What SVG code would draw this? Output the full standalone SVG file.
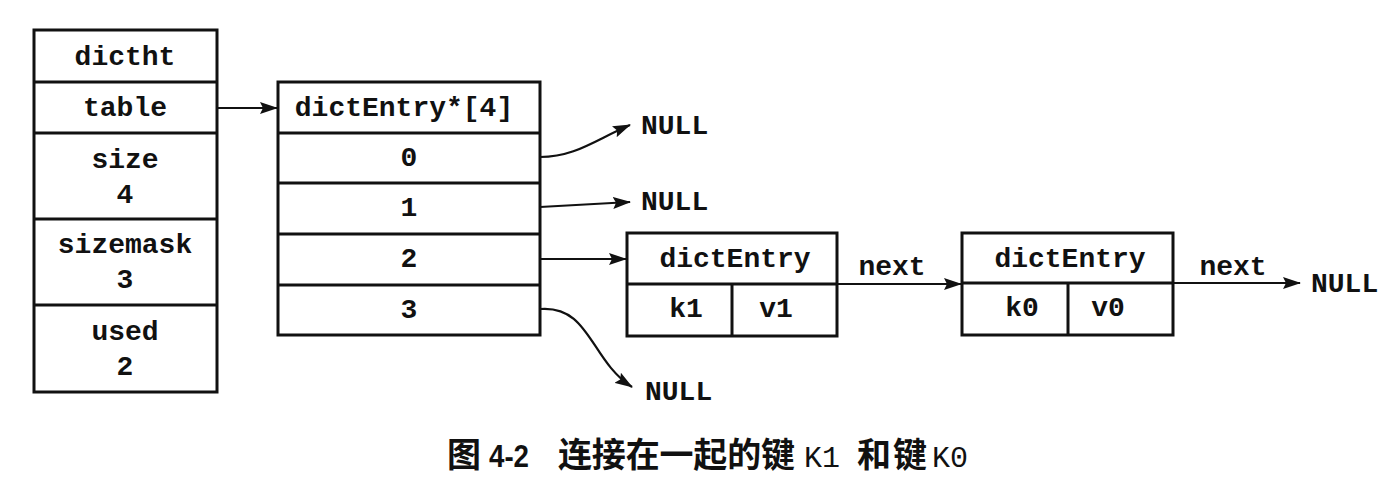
<svg xmlns="http://www.w3.org/2000/svg" width="1400" height="480" viewBox="0 0 1400 480">
<style>
.box{fill:#fff;stroke:#111;stroke-width:3}
.ln{stroke:#111;stroke-width:3;fill:none}
.t{font-family:"Liberation Mono","DejaVu Sans Mono",monospace;font-size:28px;font-weight:bold;fill:#111;text-anchor:middle}
.tl{font-family:"Liberation Mono","DejaVu Sans Mono",monospace;font-size:28px;font-weight:bold;fill:#111}
.c{stroke:#111;stroke-width:2.2;fill:none;marker-end:url(#ah)}
.cap{font-family:"Noto Sans CJK SC","Liberation Sans",sans-serif;font-size:34px;font-weight:bold;fill:#111}
.capn{font-family:"Liberation Sans",sans-serif;font-size:32px;font-weight:bold}
.capm{font-family:"Liberation Mono",monospace;font-size:30px;font-weight:normal}
</style>
<defs>
<marker id="ah" markerUnits="userSpaceOnUse" markerWidth="18" markerHeight="12" refX="17" refY="6" orient="auto">
<path d="M0,0 L18,6 L0,12 L3,6 z" fill="#111"/>
</marker>
</defs>
<rect width="1400" height="480" fill="#fff"/>
<g id="dictht">
<rect class="box" x="34" y="30" width="183" height="362"/>
<line class="ln" x1="34" y1="82" x2="217" y2="82"/>
<line class="ln" x1="34" y1="133" x2="217" y2="133"/>
<line class="ln" x1="34" y1="219" x2="217" y2="219"/>
<line class="ln" x1="34" y1="305" x2="217" y2="305"/>
<text class="t" x="125" y="65">dictht</text>
<text class="t" x="125" y="116">table</text>
<text class="t" x="125" y="168">size</text>
<text class="t" x="125" y="203">4</text>
<text class="t" x="125" y="253">sizemask</text>
<text class="t" x="125" y="288">3</text>
<text class="t" x="125" y="340">used</text>
<text class="t" x="125" y="375">2</text>
</g>
<g id="table-array">
<rect class="box" x="278" y="82" width="262" height="253"/>
<line class="ln" x1="278" y1="133" x2="540" y2="133"/>
<line class="ln" x1="278" y1="183" x2="540" y2="183"/>
<line class="ln" x1="278" y1="234" x2="540" y2="234"/>
<line class="ln" x1="278" y1="285" x2="540" y2="285"/>
<text class="t" x="404" y="116">dictEntry*[4]</text>
<text class="t" x="409" y="166">0</text>
<text class="t" x="409" y="216">1</text>
<text class="t" x="409" y="267">2</text>
<text class="t" x="409" y="318">3</text>
</g>
<g id="entry-k1">
<rect class="box" x="627" y="233" width="210" height="103"/>
<line class="ln" x1="627" y1="284" x2="837" y2="284"/>
<line class="ln" x1="732" y1="284" x2="732" y2="336"/>
<text class="t" x="735" y="267">dictEntry</text>
<text class="t" x="686" y="317">k1</text>
<text class="t" x="776" y="317">v1</text>
</g>
<g id="entry-k0">
<rect class="box" x="962" y="233" width="211" height="102"/>
<line class="ln" x1="962" y1="283" x2="1173" y2="283"/>
<line class="ln" x1="1068" y1="283" x2="1068" y2="335"/>
<text class="t" x="1070" y="267">dictEntry</text>
<text class="t" x="1022" y="316">k0</text>
<text class="t" x="1108" y="316">v0</text>
</g>
<g id="null0"><text class="tl" x="641" y="134">NULL</text></g>
<g id="null1"><text class="tl" x="641" y="210">NULL</text></g>
<g id="null3"><text class="tl" x="645" y="400">NULL</text></g>
<g id="null-end"><text class="tl" x="1311" y="292">NULL</text></g>
<g id="connectors">
<path class="c" d="M217,108 L277,108"/>
<path class="c" d="M540,157 C575,157 595,140 630,125"/>
<path class="c" d="M540,207 L630,202"/>
<path class="c" d="M540,259 L626,259"/>
<path class="c" d="M540,309 C590,305 590,360 632,387"/>
<path class="c" d="M837,284 L961,284"/>
<path class="c" d="M1173,283 L1300,283"/>
<text class="t" x="892" y="275">next</text>
<text class="t" x="1233" y="275">next</text>
</g>
<g id="caption">
<text class="cap" y="467"><tspan x="447">图</tspan><tspan class="capn" x="489" textLength="40" lengthAdjust="spacingAndGlyphs">4-2</tspan><tspan x="558" textLength="237" lengthAdjust="spacing">连接在一起的键</tspan><tspan class="capm" x="804">K1</tspan><tspan x="857" textLength="70" lengthAdjust="spacing">和键</tspan><tspan class="capm" x="932">K0</tspan></text>
</g>
</svg>
